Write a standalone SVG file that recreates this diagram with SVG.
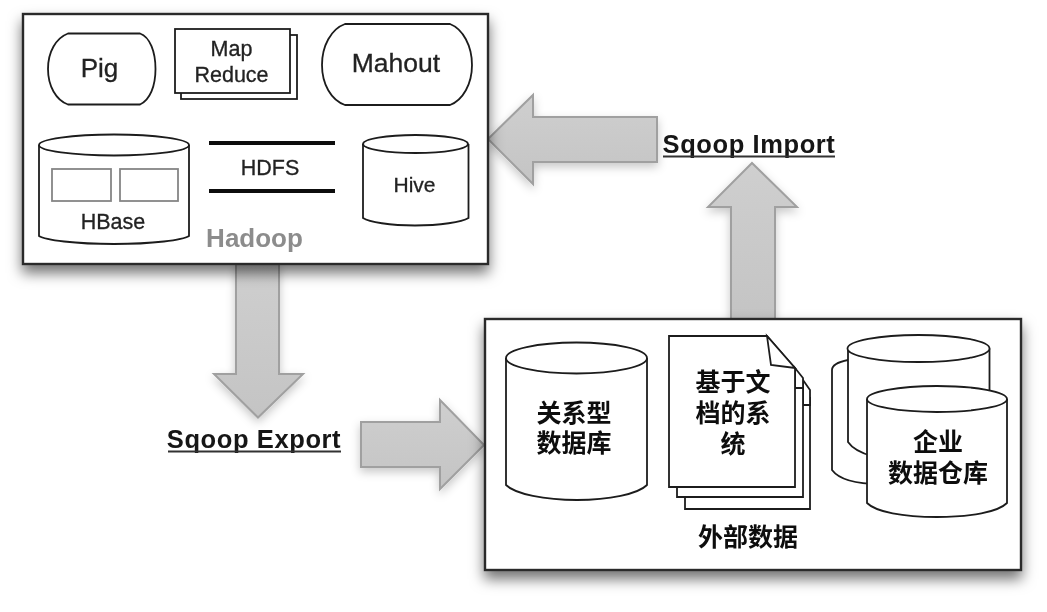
<svg xmlns="http://www.w3.org/2000/svg" width="1047" height="612" viewBox="0 0 1047 612">
<style>
text{font-family:"Liberation Sans","Noto Sans CJK SC",sans-serif;fill:#222;text-anchor:middle}
.lt{stroke:#222;stroke-width:.3}
.s{fill:#fff;stroke:#1c1c1c;stroke-width:1.8}
.box{fill:#fff;stroke:#2a2a2a;stroke-width:2.4;filter:url(#boxShadow)}
.arrow{fill:url(#arrowFill);stroke:#a0a0a0;stroke-width:2;filter:url(#arrowShadow)}
.zh{font-family:"Noto Sans CJK SC","Liberation Sans",sans-serif;font-weight:700;font-size:25px;fill:#0c0c0c}
.sq{font-weight:700;font-size:25.5px;fill:#141414;letter-spacing:.6px}
.u{stroke:#333;stroke-width:2;fill:none}
.bar{stroke:#111;stroke-width:4;fill:none}
.in{fill:#fff;stroke:#858585;stroke-width:1.8}
</style>
<defs>
<filter id="boxShadow" x="-10%" y="-10%" width="120%" height="125%"><feDropShadow dx="0" dy="8" stdDeviation="7" flood-color="#000" flood-opacity=".55"/></filter>
<filter id="arrowShadow" x="-25%" y="-25%" width="150%" height="150%"><feDropShadow dx="0" dy="4" stdDeviation="5" flood-color="#000" flood-opacity=".22"/></filter>
<filter id="soft" filterUnits="userSpaceOnUse" x="0" y="0" width="1047" height="612"><feGaussianBlur stdDeviation=".45"/></filter>
<linearGradient id="arrowFill" x1="0" y1="0" x2="0" y2="1"><stop offset="0" stop-color="#cfcfcf"/><stop offset="1" stop-color="#c4c4c4"/></linearGradient>
</defs>
<rect width="1047" height="612" fill="#fff"/>
<g filter="url(#soft)">
<g id="connectors">
<path id="arrow-export-down" class="arrow" d="M236 262H279V374H303L258 417.500 214 374H236Z"/>
<path id="arrow-export-right" class="arrow" d="M361 422H440V400L484 445 440 489V467H361Z"/>
<path id="arrow-import-left" class="arrow" d="M657 117H533V95L488 139 533 184V162H657Z"/>
<path id="arrow-import-up" class="arrow" d="M731 320V207H708L752 163 797 207H775V320Z"/>
</g>
<g id="hadoop">
<rect class="box" x="23" y="14" width="465" height="250"/>
<text x="254.500" y="247" font-size="26" font-weight="700" style="fill:#8c8c8c">Hadoop</text>
</g>
<g id="pig">
<path class="s" d="M68 33.500H140C150 37 155.500 52 155.500 69S150 100 140 104.500H68C56 100 48 86 48 69S56 38 68 33.500Z"/>
<text class="lt" x="99.500" y="77" font-size="26">Pig</text>
</g>
<g id="mapreduce">
<rect class="s" x="181" y="35" width="116" height="64"/>
<rect class="s" x="175" y="29" width="115" height="64"/>
<text class="lt" x="231.500" y="56" font-size="21.500">Map</text>
<text class="lt" x="231.500" y="82" font-size="21.500">Reduce</text>
</g>
<g id="mahout">
<path class="s" d="M345 24H450C463 29 472 46 472 65S463 100 450 105H345C331 100 322 84 322 65S331 29 345 24Z"/>
<text class="lt" x="396" y="72" font-size="26.500">Mahout</text>
</g>
<g id="hbase">
<path class="s" d="M39 145V236C45 240 75 244 114 244S183 240 189 236V145"/>
<ellipse class="s" cx="114" cy="145" rx="75" ry="10.500"/>
<rect class="in" x="52" y="169" width="59" height="32"/>
<rect class="in" x="120" y="169" width="58" height="32"/>
<text class="lt" x="113" y="229" font-size="21.500">HBase</text>
</g>
<g id="hdfs">
<path class="bar" d="M209 143H335M209 191H335"/>
<text class="lt" x="270" y="175" font-size="21.500">HDFS</text>
</g>
<g id="hive">
<path class="s" d="M363 144V218C369 222 390 225.500 415 225.500S462 222 468.500 218V144"/>
<ellipse class="s" cx="415.500" cy="144" rx="52.500" ry="9"/>
<text class="lt" x="414.500" y="192" font-size="21">Hive</text>
</g>
<g id="sqoop-export">
<text x="254" y="448" class="sq">Sqoop Export</text>
<path class="u" d="M168 451.500H341"/>
</g>
<g id="sqoop-import">
<text x="749" y="153" class="sq">Sqoop Import</text>
<path class="u" d="M663 156.500H835"/>
</g>
<g id="external">
<rect class="box" x="485" y="319" width="536" height="251"/>
<text x="748" y="546" class="zh">外部数据</text>
</g>
<g id="rdb">
<path class="s" d="M506 358V485C515 494 545 500 577 500S638 494 647 485V358"/>
<ellipse class="s" cx="576.500" cy="358" rx="70.500" ry="15.500"/>
<text class="zh"><tspan x="574" y="422">关系型</tspan><tspan x="574" y="452">数据库</tspan></text>
</g>
<g id="docs">
<path class="s" d="M685 398H810V509H685Z"/>
<path class="s" d="M803 380L810 390V405H803Z"/>
<path class="s" d="M677 385H803V497H677Z"/>
<path class="s" d="M795 368L803 378V388H795Z"/>
<path class="s" d="M669 336H767L795 368V487H669Z"/>
<path class="s" d="M767 336 771 365 795 368Z"/>
<text class="zh"><tspan x="733" y="391">基于文</tspan><tspan x="733" y="422">档的系</tspan><tspan x="733" y="453">统</tspan></text>
</g>
<g id="warehouse">
<path class="s" d="M848 360C838 362 832 365 832 370V470C838 478 853 484 880 484V360Z"/>
<path class="s" d="M848 348.500V442C856 454 883 462 918.500 462S981 454 989.500 442V348.500"/>
<ellipse class="s" cx="918.500" cy="348.500" rx="71" ry="13.500"/>
<path class="s" d="M867 399V503C876 512 903 517 937 517S998 512 1007 503V399"/>
<ellipse class="s" cx="937" cy="399" rx="70" ry="13"/>
<text class="zh"><tspan x="938" y="451">企业</tspan><tspan x="938" y="482">数据仓库</tspan></text>
</g>
</g>
</svg>
